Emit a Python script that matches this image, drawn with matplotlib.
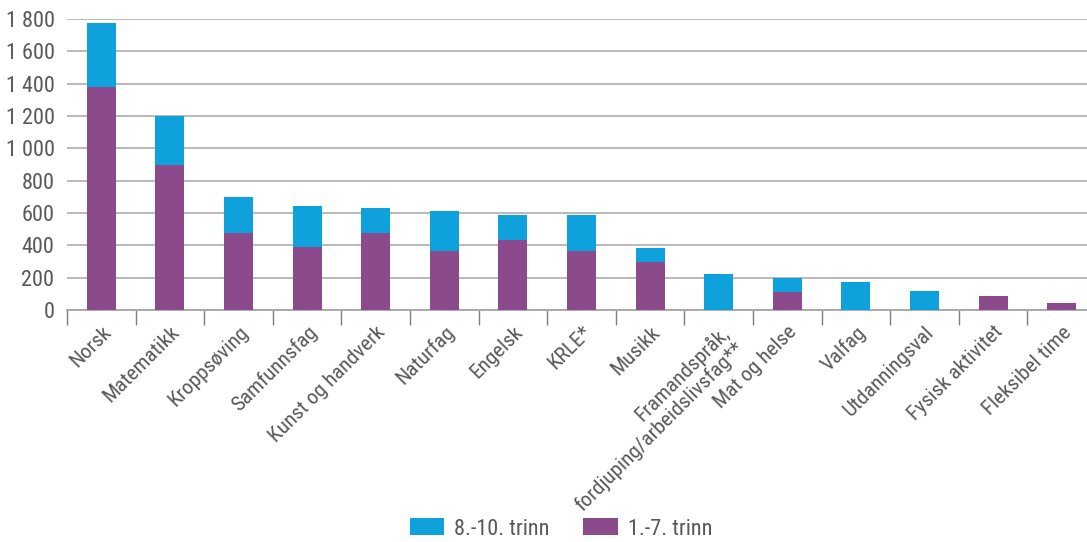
import matplotlib
matplotlib.use("Agg")
import glob, os
import matplotlib.pyplot as plt
from matplotlib.ticker import FixedLocator
import matplotlib.font_manager as fm

categories = ["Norsk", "Matematikk", "Kroppsøving", "Samfunnsfag", "Kunst og handverk",
              "Naturfag", "Engelsk", "KRLE*", "Musikk",
              "Framandspråk,\nfordjuping/arbeidslivsfag**", "Mat og helse", "Valfag",
              "Utdanningsval", "Fysisk aktivitet", "Fleksibel time"]
trinn_1_7 = [1380, 895, 478, 390, 477, 366, 435, 366, 296, 0, 114, 0, 0, 87, 45]
trinn_8_10 = [395, 306, 223, 253, 154, 246, 152, 222, 85, 225, 86, 171, 115, 0, 0]
yticks = [0, 200, 400, 600, 800, 1000, 1200, 1400, 1600, 1800]

# find a condensed / narrow font if one is installed
files = glob.glob("/usr/share/fonts/**/*.tt[fc]", recursive=True) + \
        glob.glob("/usr/local/share/fonts/**/*.tt[fc]", recursive=True) + \
        glob.glob(os.path.expanduser("~/.fonts/**/*.tt[fc]"), recursive=True) + \
        glob.glob(os.path.join(matplotlib.get_data_path(), "fonts/ttf/*.ttf"))
prefs = ["LiberationSansNarrow-Regular", "RobotoCondensed-Regular", "RobotoCondensed-Light",
         "OpenSans_Condensed-Regular", "OpenSansCondensed-Light", "NotoSans-Condensed",
         "DejaVuSansCondensed."]
chosen = None
for p in prefs:
    for f in files:
        if p.lower() in os.path.basename(f).lower():
            chosen = f
            break
    if chosen:
        break
if chosen:
    FP = lambda size: fm.FontProperties(fname=chosen, size=size)
else:
    FP = lambda size: fm.FontProperties(family="DejaVu Sans", size=size)

BLUE = "#0ea1dc"
PURPLE = "#8a4a8c"
GRID = "#b3b3b3"
TXT = "#595959"

W, H = 1087, 542
fig = plt.figure(figsize=(W / 100, H / 100), dpi=100)
ax = fig.add_axes([67 / W, 1 - 310 / H, (1096 - 67) / W, (310 - 19) / H])

x = list(range(len(categories)))
ax.bar(x, trinn_1_7, width=0.42, color=PURPLE, label="1.-7. trinn", zorder=3)
ax.bar(x, trinn_8_10, width=0.42, bottom=trinn_1_7, color=BLUE, label="8.-10. trinn", zorder=3)

ax.set_xlim(-0.5, len(categories) - 0.5)
ax.set_ylim(0, 1800)
ax.set_yticks(yticks)
ax.set_yticklabels([f"{v:,}".replace(",", " ") for v in yticks])
ax.grid(axis='y', color=GRID, linewidth=1.3, zorder=0)
ax.set_axisbelow(True)
for s in ["left", "right", "top"]:
    ax.spines[s].set_visible(False)
ax.spines["bottom"].set_color("#a6a6a6")
ax.spines["bottom"].set_linewidth(1.3)
ax.tick_params(axis='y', length=0, labelcolor=TXT, pad=9)
for t in ax.get_yticklabels():
    t.set_fontproperties(FP(16))

ax.set_xticks(x)
ax.set_xticklabels(categories, rotation=45, ha='right', rotation_mode='anchor',
                   color=TXT, multialignment='right', linespacing=1.15)
for t in ax.get_xticklabels():
    t.set_fontproperties(FP(15.3))
ax.tick_params(axis='x', which='major', length=0, pad=9)
ax.xaxis.set_minor_locator(FixedLocator([i - 0.5 for i in range(len(categories) + 1)]))
ax.tick_params(axis='x', which='minor', length=11, width=1, color="#7f7f7f", direction='out')

handles, labels = ax.get_legend_handles_labels()
leg = fig.legend(handles[::-1], labels[::-1], loc='center', bbox_to_anchor=(561 / W, 1 - 529 / H),
                 ncol=2, frameon=False, prop=FP(16), handlelength=1.55, handleheight=0.8,
                 columnspacing=1.5, handletextpad=0.45)
for t in leg.get_texts():
    t.set_color(TXT)

fig.savefig("out.png", dpi=100)
